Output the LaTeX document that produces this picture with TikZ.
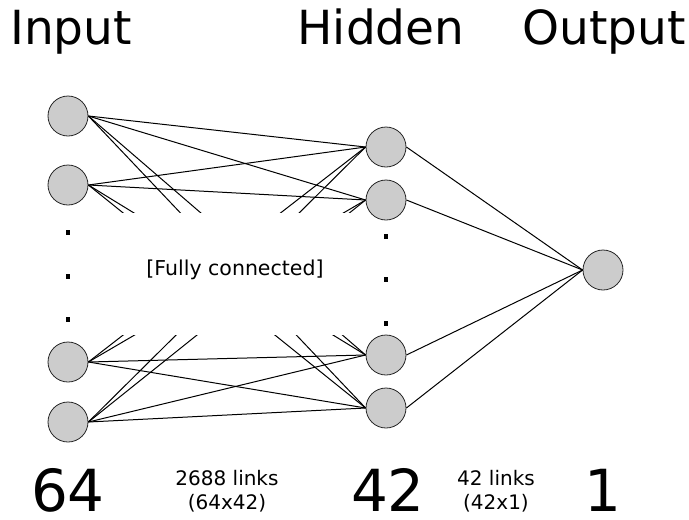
\documentclass[tikz,border=0pt]{standalone}
\usepackage{fontspec}
\setmainfont{DejaVu Sans}
\begin{document}
\begin{tikzpicture}[x=1pt,y=-1pt,
  neuron/.style={circle,draw=black!85,fill=black!20,minimum size=40pt,inner sep=0pt,line width=0.8pt},
  link/.style={line width=1pt,black},
  dotsq/.style={rectangle,fill=black,minimum width=4pt,minimum height=5pt,inner sep=0pt},
  title/.style={anchor=base,inner sep=0pt,font=\fontsize{47}{50}\selectfont},
  count/.style={anchor=base,inner sep=0pt,font=\fontsize{58}{62}\selectfont},
  small/.style={anchor=base,inner sep=0pt,align=center,font=\fontsize{20}{24}\selectfont}]
\useasboundingbox (0,0) rectangle (689,520);
% nodes
\node[neuron] (i1) at (68,116) {};
\node[neuron] (i2) at (68,185) {};
\node[neuron] (i3) at (68,362) {};
\node[neuron] (i4) at (68,422) {};
\node[neuron] (h1) at (386,147) {};
\node[neuron] (h2) at (386,200) {};
\node[neuron] (h3) at (386,355) {};
\node[neuron] (h4) at (386,408) {};
\node[neuron] (o) at (603,270) {};
% input-hidden links, masked in the middle band
\begin{scope}
  \clip (0,0) rectangle (689,212);
  \foreach \a in {i1,i2,i3,i4}
    \foreach \b in {h1,h2,h3,h4}
      \draw[link] (\a.east) -- (\b.west);
\end{scope}
\begin{scope}
  \clip (0,335) rectangle (689,520);
  \foreach \a in {i1,i2,i3,i4}
    \foreach \b in {h1,h2,h3,h4}
      \draw[link] (\a.east) -- (\b.west);
\end{scope}
% hidden-output links
\foreach \b in {h1,h2,h3,h4}
  \draw[link] (\b.east) -- (o.west);
% dots
\node[dotsq] (di1) at (68,232) {};
\node[dotsq] (di2) at (68,276) {};
\node[dotsq] (di3) at (68,319) {};
\node[dotsq] (dh1) at (386,236) {};
\node[dotsq] (dh2) at (386,279) {};
\node[dotsq] (dh3) at (386,323) {};
% texts
\node[inner sep=0pt,font=\fontsize{20.5}{24}\selectfont] (fc) at (235,270) {[Fully connected]};
\node[title] (tin) at (71,44) {Input};
\node[title] (thid) at (381,44) {Hidden};
\node[title] (tout) at (604,44) {Output};
\node[count] (n64) at (68,511) {64};
\node[count] (n42) at (388,511) {42};
\node[count] (n1) at (603,511) {1};
\node[small] (l1) at (227,509) {2688 links\\(64x42)};
\node[small] (l2) at (496,509) {42 links\\(42x1)};
\end{tikzpicture}
\end{document}
